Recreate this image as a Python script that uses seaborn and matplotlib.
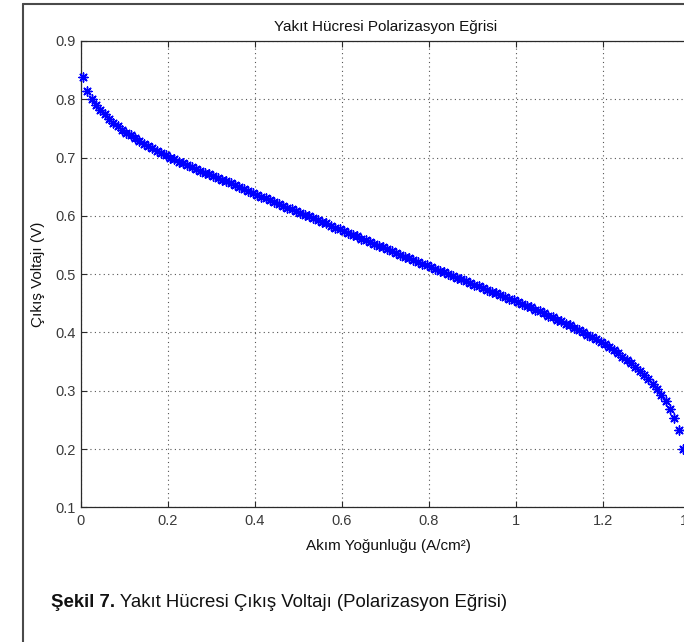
import matplotlib
matplotlib.use("Agg")
import matplotlib.pyplot as plt
import seaborn as sns
import pandas as pd
from matplotlib.lines import Line2D

# ---------------- data ----------------
current_density = [
    0.005, 0.015, 0.025, 0.035, 0.045, 0.055, 0.065, 0.075, 0.085, 0.095,
    0.105, 0.115, 0.125, 0.135, 0.145, 0.155, 0.165, 0.175, 0.185, 0.195,
    0.205, 0.215, 0.225, 0.235, 0.245, 0.255, 0.265, 0.275, 0.285, 0.295,
    0.305, 0.315, 0.325, 0.335, 0.345, 0.355, 0.365, 0.375, 0.385, 0.395,
    0.405, 0.415, 0.425, 0.435, 0.445, 0.455, 0.465, 0.475, 0.485, 0.495,
    0.505, 0.515, 0.525, 0.535, 0.545, 0.555, 0.565, 0.575, 0.585, 0.595,
    0.605, 0.615, 0.625, 0.635, 0.645, 0.655, 0.665, 0.675, 0.685, 0.695,
    0.705, 0.715, 0.725, 0.735, 0.745, 0.755, 0.765, 0.775, 0.785, 0.795,
    0.805, 0.815, 0.825, 0.835, 0.845, 0.855, 0.865, 0.875, 0.885, 0.895,
    0.905, 0.915, 0.925, 0.935, 0.945, 0.955, 0.965, 0.975, 0.985, 0.995,
    1.005, 1.015, 1.025, 1.035, 1.045, 1.055, 1.065, 1.075, 1.085, 1.095,
    1.105, 1.115, 1.125, 1.135, 1.145, 1.155, 1.165, 1.175, 1.185, 1.195,
    1.205, 1.215, 1.225, 1.235, 1.245, 1.255, 1.265, 1.275, 1.285, 1.295,
    1.305, 1.315, 1.325, 1.335, 1.345, 1.355, 1.365, 1.375, 1.385,
]
voltage = [
    0.838, 0.815, 0.801, 0.791, 0.782, 0.774, 0.767, 0.760, 0.754, 0.748,
    0.743, 0.738, 0.733, 0.728, 0.724, 0.720, 0.716, 0.712, 0.708, 0.704,
    0.700, 0.697, 0.693, 0.690, 0.687, 0.684, 0.681, 0.677, 0.674, 0.671,
    0.668, 0.665, 0.662, 0.659, 0.656, 0.653, 0.649, 0.646, 0.643, 0.640,
    0.636, 0.633, 0.630, 0.627, 0.624, 0.620, 0.617, 0.614, 0.611, 0.608,
    0.605, 0.602, 0.599, 0.596, 0.593, 0.590, 0.587, 0.583, 0.580, 0.577,
    0.574, 0.571, 0.568, 0.565, 0.561, 0.558, 0.555, 0.552, 0.549, 0.546,
    0.543, 0.540, 0.537, 0.533, 0.530, 0.527, 0.524, 0.521, 0.518, 0.515,
    0.512, 0.509, 0.506, 0.503, 0.500, 0.497, 0.494, 0.491, 0.488, 0.485,
    0.482, 0.479, 0.476, 0.473, 0.470, 0.467, 0.464, 0.461, 0.458, 0.455,
    0.452, 0.449, 0.446, 0.443, 0.439, 0.436, 0.433, 0.429, 0.426, 0.422,
    0.419, 0.415, 0.412, 0.408, 0.404, 0.400, 0.396, 0.392, 0.388, 0.384,
    0.380, 0.375, 0.370, 0.364, 0.358, 0.353, 0.347, 0.341, 0.334, 0.327,
    0.320, 0.312, 0.303, 0.293, 0.282, 0.269, 0.253, 0.233, 0.200,
]
x_ticks = [0.0, 0.2, 0.4, 0.6, 0.8, 1.0, 1.2, 1.4]
x_tick_labels = ["0", "0.2", "0.4", "0.6", "0.8", "1", "1.2", "1.4"]
y_ticks = [0.1, 0.2, 0.3, 0.4, 0.5, 0.6, 0.7, 0.8, 0.9]
y_tick_labels = ["0.1", "0.2", "0.3", "0.4", "0.5", "0.6", "0.7", "0.8", "0.9"]
title_text = "Yakıt Hücresi Polarizasyon Eğrisi"
x_label = "Akım Yoğunluğu (A/cm²)"
y_label = "Çıkış Voltajı (V)"
caption_bold = "Şekil 7."
caption_rest = " Yakıt Hücresi Çıkış Voltajı (Polarizasyon Eğrisi)"

# ---------------- style ----------------
sns.set_theme(style="white")
plt.rcParams["font.family"] = ["Liberation Sans", "DejaVu Sans"]

W, H = 684, 642
fig = plt.figure(figsize=(W / 100, H / 100), dpi=100)
fig.patch.set_facecolor("white")


def fx(px):
    return px / W


def fy(py):
    return 1 - py / H


ax_left, ax_right, ax_top, ax_bottom = 80.7, 689.7, 41.0, 507.3
ax = fig.add_axes([fx(ax_left), fy(ax_bottom),
                   (ax_right - ax_left) / W, (ax_bottom - ax_top) / H])
ax.set_facecolor("white")

df = pd.DataFrame({"i": current_density, "V": voltage})
sns.scatterplot(data=df, x="i", y="V", marker=(8, 2, 0), s=42,
                color="#0000ff", linewidth=1.05, ax=ax, legend=False,
                zorder=3, clip_on=False)

ax.set_xlim(0, 1.4)
ax.set_ylim(0.1, 0.9)
ax.set_xticks(x_ticks)
ax.set_xticklabels(x_tick_labels)
ax.set_yticks(y_ticks)
ax.set_yticklabels(y_tick_labels)

ax.grid(True, linestyle=(0, (1, 3)), color="#555555", linewidth=0.8)
ax.set_axisbelow(True)

for side in ["left", "bottom", "top", "right"]:
    ax.spines[side].set_visible(True)
    ax.spines[side].set_color("#2a2a2a")
    ax.spines[side].set_linewidth(0.9)

ax.tick_params(axis="both", which="major", direction="in", length=4,
               width=0.8, color="#2a2a2a", labelcolor="#3a3a3a",
               labelsize=10.5, bottom=True, left=True, top=True, right=True)
ax.tick_params(axis="x", pad=5)
ax.tick_params(axis="y", pad=3.4)

ax.set_title(title_text, fontsize=11, color="#111111", pad=7.2)

ax.set_xlabel(x_label, fontsize=11, color="#111111")
ax.xaxis.label.set_va("baseline")
ax.xaxis.set_label_coords((388.7 - ax_left) / (ax_right - ax_left),
                          (ax_bottom - 550) / (ax_bottom - ax_top))
ax.set_ylabel(y_label, fontsize=11, color="#111111")
ax.yaxis.label.set_va("baseline")
ax.yaxis.set_label_coords((42 - ax_left) / (ax_right - ax_left), 0.5)

# ---------------- figure frame ----------------
frame_color = "#4a4a4a"
fig.add_artist(Line2D([fx(23), fx(23)], [fy(4), 0.0],
                      transform=fig.transFigure, color=frame_color, lw=1.5))
fig.add_artist(Line2D([fx(23), 1.0], [fy(4), fy(4)],
                      transform=fig.transFigure, color=frame_color, lw=1.5))

# ---------------- caption ----------------
t_bold = fig.text(fx(50.7), fy(606.7), caption_bold, fontsize=13.4,
                  fontweight="bold", color="#111111", va="baseline", ha="left")
fig.canvas.draw()
renderer = fig.canvas.get_renderer()
bb = t_bold.get_window_extent(renderer=renderer)
fig.text(bb.x1 / fig.bbox.width, fy(606.7), caption_rest, fontsize=13.4,
         color="#111111", va="baseline", ha="left")

fig.savefig("out.png", dpi=100, facecolor="white")
